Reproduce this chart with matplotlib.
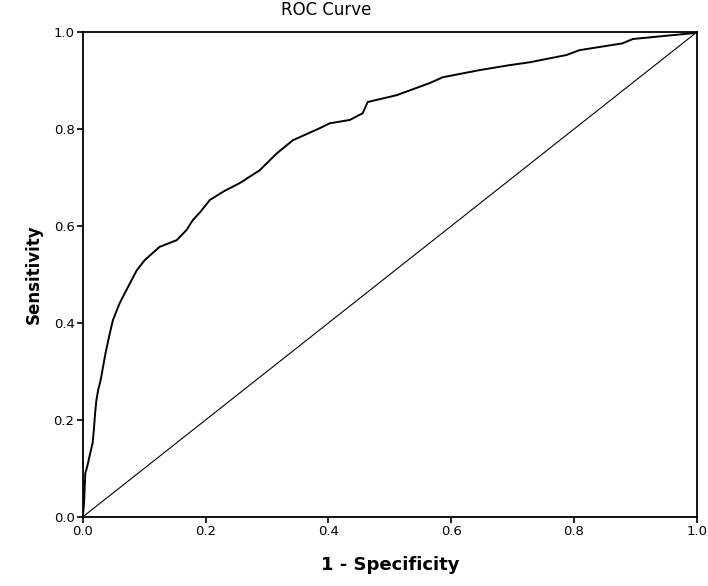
import matplotlib
matplotlib.use('Agg')
import matplotlib.pyplot as plt

# ROC curve points (1 - specificity, sensitivity)
fpr = [0.0, 0.002, 0.003, 0.004, 0.007, 0.010, 0.016, 0.018, 0.020, 0.022, 0.025,
       0.029, 0.032, 0.037, 0.044, 0.049, 0.060, 0.071, 0.088, 0.101, 0.125,
       0.153, 0.169, 0.179, 0.192, 0.207, 0.230, 0.256, 0.288, 0.300, 0.316,
       0.342, 0.386, 0.402, 0.435, 0.456, 0.464, 0.511, 0.565, 0.586, 0.647,
       0.695, 0.728, 0.788, 0.809, 0.879, 0.896, 0.961, 0.993, 1.0]
tpr = [0.0, 0.03, 0.06, 0.09, 0.103, 0.12, 0.153, 0.18, 0.214, 0.24, 0.262,
       0.282, 0.303, 0.338, 0.379, 0.406, 0.441, 0.468, 0.509, 0.530, 0.557,
       0.571, 0.592, 0.612, 0.630, 0.654, 0.672, 0.689, 0.715, 0.730, 0.750,
       0.777, 0.802, 0.812, 0.819, 0.833, 0.856, 0.870, 0.895, 0.907, 0.922,
       0.932, 0.938, 0.953, 0.963, 0.977, 0.986, 0.994, 0.998, 1.0]
ticks = [0.0, 0.2, 0.4, 0.6, 0.8, 1.0]

plt.rcParams['font.family'] = ['DejaVu Sans']
fig = plt.figure(figsize=(7.08, 5.86), dpi=100)
ax = fig.add_axes([0.117, 0.118, 0.867, 0.827])

ax.plot(fpr, tpr, color='black', lw=1.4)
ax.plot([0, 1], [0, 1], color='black', lw=0.8)

ax.set_xlim(0, 1)
ax.set_ylim(0, 1)
ax.set_xticks(ticks)
ax.set_yticks(ticks)
ax.set_xticklabels(['%.1f' % t for t in ticks])
ax.set_yticklabels(['%.1f' % t for t in ticks])
ax.tick_params(direction='out', length=4, width=1.2, labelsize=9.5, pad=2)
for s in ax.spines.values():
    s.set_linewidth(1.3)

ax.set_xlabel('1 - Specificity', fontsize=13, fontweight='bold', labelpad=13)
ax.set_ylabel('Sensitivity', fontsize=12, fontweight='bold', labelpad=8)
fig.text(326 / 708, 1 - 10 / 586, 'ROC Curve', fontsize=12, ha='center', va='center')

fig.savefig('out.png', dpi=100)
